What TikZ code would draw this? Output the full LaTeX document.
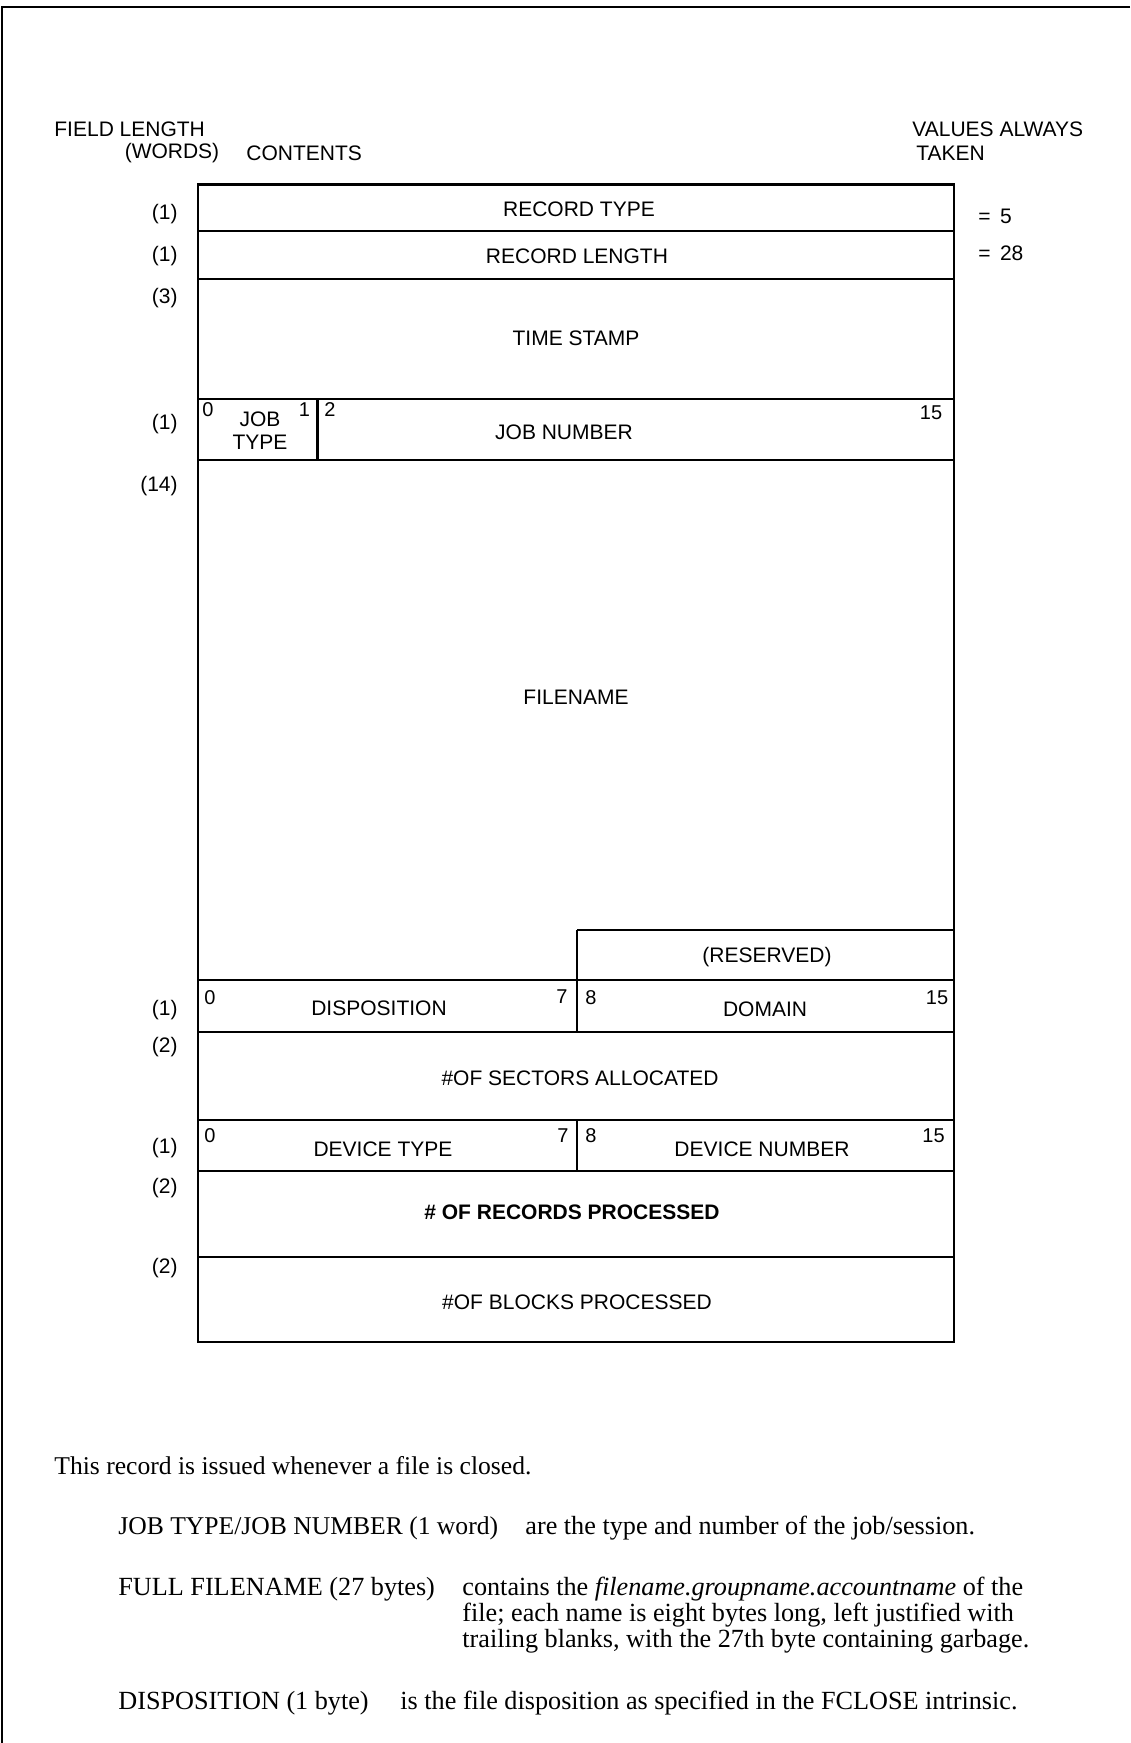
\documentclass[tikz,border=0pt]{standalone}
\usepackage{fontspec}
\setmainfont{Liberation Serif}
\newfontfamily\labfont{Liberation Sans}
\begin{document}
\begin{tikzpicture}[x=0.5pt,y=-0.5pt,
  lab/.style={font=\labfont\fontsize{10.5}{12}\selectfont, inner sep=0pt},
  labw/.style={lab, anchor=west},
  labe/.style={lab, anchor=east},
  bit/.style={font=\labfont\fontsize{10}{11}\selectfont, inner sep=0pt},
  body/.style={font=\fontsize{13.1}{15}\selectfont, inner sep=0pt, anchor=base west},
  bodys/.style={body, font=\fontsize{12.8}{15}\selectfont},
  frame/.style={line width=1.15pt},
  border/.style={line width=0.75pt}]
\useasboundingbox (0,0) rectangle (1130,1743);
\fill[white] (0,0) rectangle (1130,1743);
\draw[border] (1130,7) -- (2,7) -- (2,1743);

% header
\node[labw] (hfl) at (54,129) {FIELD LENGTH};
\node[lab] (hwd) at (172,153) {(WORDS)};
\node[labw] (hct) at (246,153) {CONTENTS};
\node[labw] (hva) at (912,129) {VALUES ALWAYS};
\node[labw] (hta) at (916,153) {TAKEN};

% record frame
\draw[frame] (198,184.5) rectangle (954,1342);
\foreach \yy in {231,279,399,460,980,1032,1120,1171,1257}
  \draw[frame] (198,\yy) -- (954,\yy);
\draw[frame] (577,930) -- (954,930);
\draw[frame] (317.5,399) -- (317.5,460);
\draw[frame] (577,930) -- (577,1032);
\draw[frame] (577,1120) -- (577,1171);

% field lengths
\node[labe] (l1) at (178,214) {(1)};
\node[labe] (l2) at (178,256) {(1)};
\node[labe] (l3) at (178,298) {(3)};
\node[labe] (l4) at (178,424) {(1)};
\node[labe] (l5) at (178,486) {(14)};
\node[labe] (l6) at (178,1010) {(1)};
\node[labe] (l7) at (178,1047) {(2)};
\node[labe] (l8) at (178,1148) {(1)};
\node[labe] (l9) at (178,1188) {(2)};
\node[labe] (l10) at (178,1268) {(2)};

% values
\node[labw] (v1) at (978,216) {=\, 5};
\node[labw] (v2) at (978,253) {=\, 28};

% contents
\node[lab] (crt) at (579,209) {RECORD TYPE};
\node[lab] (crl) at (577,256) {RECORD LENGTH};
\node[lab] (cts) at (576,338) {TIME STAMP};
\node[lab, align=center, font=\labfont\fontsize{10.5}{11.5}\selectfont] (cjt) at (260,431) {JOB\\TYPE};
\node[lab] (cjn) at (564,432) {JOB NUMBER};
\node[lab] (cfn) at (576,697) {FILENAME};
\node[lab] (crs) at (767,957) {(RESERVED)};
\node[lab] (cdi) at (379,1008) {DISPOSITION};
\node[lab] (cdo) at (765,1009) {DOMAIN};
\node[lab] (csa) at (580,1078) {\#OF SECTORS ALLOCATED};
\node[lab] (cdt) at (383,1149) {DEVICE TYPE};
\node[lab] (cdn) at (762,1149) {DEVICE NUMBER};
\node[lab, font=\labfont\bfseries\fontsize{10.5}{12}\selectfont] (crp) at (572,1212) {\# OF RECORDS PROCESSED};
\node[lab] (cbp) at (577,1302) {\#OF BLOCKS PROCESSED};

% bit numbers
\node[bit] (b1) at (208,410) {0};
\node[bit] (b2) at (304.5,410) {1};
\node[bit] (b3) at (330,410) {2};
\node[bit] (b4) at (931,413) {15};
\node[bit] (b5) at (210,998) {0};
\node[bit] (b6) at (562,997) {7};
\node[bit] (b7) at (591,998) {8};
\node[bit] (b8) at (937,998) {15};
\node[bit] (b9) at (210,1136) {0};
\node[bit] (b10) at (563,1136) {7};
\node[bit] (b11) at (591,1136) {8};
\node[bit] (b12) at (933.5,1136) {15};

% description
\node[bodys] (t1) at (54,1474) {This record is issued whenever a file is closed.};
\node[bodys] (t2a) at (118,1534) {JOB TYPE/JOB NUMBER (1 word)};
\node[body] (t2b) at (525,1534) {are the type and number of the job/session.};
\node[body] (t3a) at (118,1595) {FULL FILENAME (27 bytes)};
\node[body] (t3b) at (462,1595) {contains the \textit{filename.groupname.accountname} of the};
\node[body] (t3c) at (462,1621) {file; each name is eight bytes long, left justified with};
\node[body] (t3d) at (462,1647) {trailing blanks, with the 27th byte containing garbage.};
\node[body] (t4a) at (118,1709) {DISPOSITION (1 byte)};
\node[body] (t4b) at (400,1709) {is the file disposition as specified in the FCLOSE intrinsic.};
\end{tikzpicture}
\end{document}
